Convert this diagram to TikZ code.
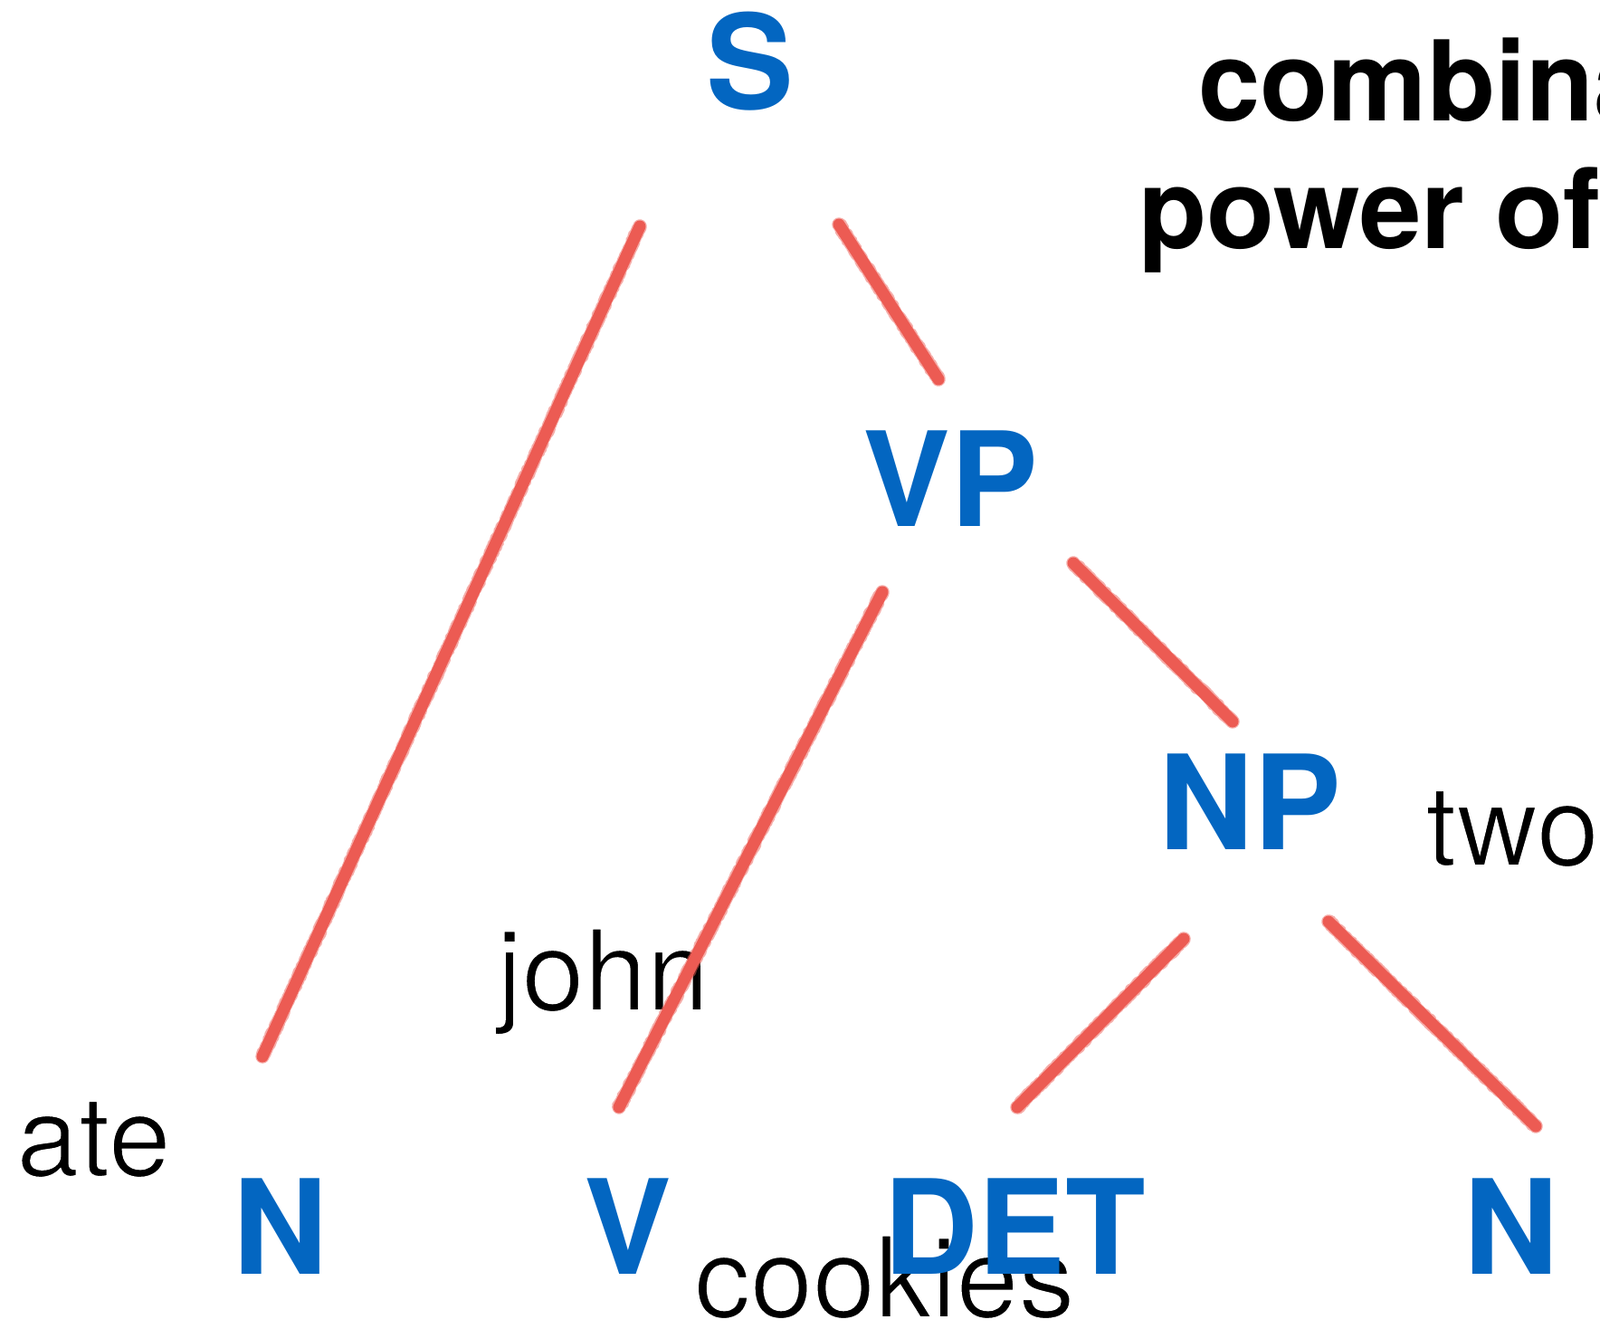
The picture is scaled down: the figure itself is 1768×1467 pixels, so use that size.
\documentclass[tikz,border=0pt]{standalone}
\usepackage{fontspec}
\setmainfont{TeX Gyre Heros}
\usetikzlibrary{decorations.pathmorphing}
\definecolor{treeblue}{HTML}{0366C1}
\definecolor{chalk}{HTML}{EC5B53}
% thin the regular weight: fill black, stroke white (text render mode 2)
\newcommand\thinned[1]{\special{pdf:literal direct 2 Tr 1 1 1 RG 2 w}#1}
\begin{document}
\begin{tikzpicture}[x=1pt,y=-1pt,
  cat/.style={inner sep=0pt, anchor=base, text=treeblue, font=\fontsize{145}{145}\selectfont\bfseries},
  word/.style={inner sep=0pt, anchor=base west, font=\fontsize{124}{124}\selectfont},
  headline/.style={inner sep=0pt, anchor=base west, font=\fontsize{123}{141}\selectfont\bfseries},
  branch/.style={draw=chalk, line width=13pt, line cap=round,
    preaction={draw=chalk, opacity=0.5, line width=15.5pt, line cap=round, line join=round, decorate,
      decoration={random steps, segment length=2pt, amplitude=1pt}}}]
\useasboundingbox (0,0) rectangle (1768,1467);
\clip (0,0) rectangle (1768,1467);
% headline
\node[headline] (h1) at (1324,133) {combinatorial};
\node[headline] (h2) at (1258,274) {power of};
% words
\node[word] (two) at (1575,956) {\thinned{two}};
\node[word] (john) at (549,1116) {\thinned{john}};
\node[word] (ate) at (18,1299) {\thinned{ate}};
\node[word] (cookies) at (767,1455) {\thinned{cookies}};
% categories
\node[cat] (S) at (829,120) {S};
\node[cat] (VP) at (1050,581) {VP};
\node[cat] (NP) at (1381,938) {NP};
\node[cat] (N1) at (310,1407) {N};
\node[cat] (V) at (694,1407) {V};
\node[cat] (DET) at (1121,1407) {DET};
\node[cat] (N2) at (1670,1407) {N};
% branch ends
\coordinate (s1) at (707,250);  \coordinate (n1t) at (290,1167);
\coordinate (s2) at (927,248);  \coordinate (vpt) at (1037,419);
\coordinate (vp1) at (975,654); \coordinate (vt) at (684,1223);
\coordinate (vp2) at (1186,622); \coordinate (npt) at (1362,797);
\coordinate (np1) at (1308,1037); \coordinate (dett) at (1124,1223);
\coordinate (np2) at (1468,1018); \coordinate (n2t) at (1697,1244);
\draw[branch] (s1) -- (n1t);
\draw[branch] (s2) -- (vpt);
\draw[branch] (vp1) -- (vt);
\draw[branch] (vp2) -- (npt);
\draw[branch] (np1) -- (dett);
\draw[branch] (np2) -- (n2t);
\end{tikzpicture}
\end{document}
